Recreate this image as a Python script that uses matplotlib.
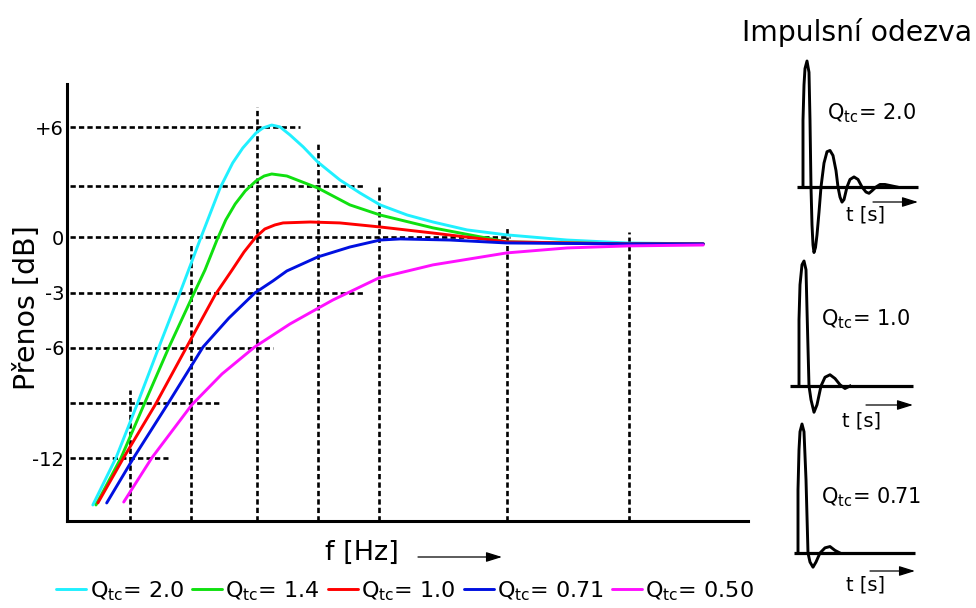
import matplotlib
matplotlib.use('Agg')
import matplotlib.pyplot as plt
from matplotlib.patches import FancyArrowPatch

W, H = 976, 608
plt.rcParams['font.family'] = ['DejaVu Sans']
plt.rcParams['mathtext.fontset'] = 'dejavusans'

# ---------------- data: frequency response (x = relative log-frequency units, y = dB)
q_values = ['2.0', '1.4', '1.0', '0.71', '0.50']
colors = ['#20F0FF', '#10E010', '#FF0000', '#0010E0', '#FF10FF']

x_q20 = [0.41, 0.78, 1.11, 1.46, 1.78, 2.11, 2.43, 2.63, 2.79, 3.00, 3.11, 3.25, 3.38, 3.54, 3.75,
         3.98, 4.33, 4.65, 4.97, 5.40, 5.81, 6.35, 6.98, 7.94, 8.89, 10.10]
db_q20 = [-14.54, -11.96, -9.10, -5.95, -3.13, -0.14, 2.69, 4.05, 4.86, 5.68, 5.95, 6.11, 6.01, 5.57, 4.92,
          4.10, 3.13, 2.42, 1.77, 1.22, 0.84, 0.41, 0.14, -0.14, -0.30, -0.35]

x_q14 = [0.46, 0.86, 1.22, 1.62, 1.98, 2.19, 2.38, 2.52, 2.67, 2.83, 3.00, 3.13, 3.25, 3.49, 3.98,
         4.49, 4.97, 5.81, 6.98, 8.89, 10.10]
db_q14 = [-14.54, -11.96, -9.10, -5.95, -3.29, -1.77, -0.14, 0.95, 1.82, 2.53, 3.07, 3.34, 3.45, 3.34, 2.69,
          1.77, 1.22, 0.52, -0.24, -0.35, -0.35]

x_q10 = [0.49, 0.90, 1.40, 1.90, 2.35, 2.62, 2.81, 3.00, 3.14, 3.30, 3.43, 3.86, 4.33, 4.97, 5.81, 6.98,
         8.89, 10.10]
db_q10 = [-14.43, -11.96, -9.10, -5.95, -3.13, -1.77, -0.79, 0.03, 0.46, 0.68, 0.79, 0.84, 0.79, 0.57, 0.24,
          -0.24, -0.35, -0.35]

x_q071 = [0.63, 1.06, 1.59, 2.16, 2.57, 2.98, 3.27, 3.49, 3.98, 4.49, 4.97, 5.29, 6.08, 6.98, 8.89, 10.10]
db_q071 = [-14.43, -11.96, -9.10, -5.95, -4.38, -3.02, -2.36, -1.82, -1.06, -0.52, -0.14, -0.08, -0.14, -0.30,
           -0.35, -0.35]

x_q050 = [0.90, 1.35, 1.98, 2.46, 2.98, 3.54, 4.02, 4.22, 4.95, 5.81, 6.98, 7.94, 8.90, 10.10]
db_q050 = [-14.38, -11.96, -9.10, -7.42, -5.95, -4.70, -3.78, -3.40, -2.20, -1.49, -0.84, -0.57, -0.46, -0.41]

series_x = [x_q20, x_q14, x_q10, x_q071, x_q050]
series_db = [db_q20, db_q14, db_q10, db_q071, db_q050]

# guide lines
ytick_vals = [6, 0, -3, -6, -12]
ytick_labels = ['+6', '0', '-3', '-6', '-12']
h_levels = [6, 2.8, 0, -3, -6, -9, -12]
h_ends = [3.70, 4.73, 7.03, 4.73, 3.27, 2.43, 1.60]
v_pos = [1.0, 1.97, 3.02, 3.98, 4.95, 6.98, 8.92]
v_tops = [-8.29, -0.41, 7.09, 5.19, 2.74, 0.57, 0.30]

# ---------------- data: impulse responses (t in time units, normalised amplitude)
t_q20 = [0, 0, 1, 2, 4, 6, 7, 8, 9, 10, 11, 12.5, 14, 16, 18, 21, 24, 27, 30, 33, 35, 37, 39, 41, 44,
         47, 51, 55, 59, 63, 66, 69, 73, 77, 82, 88, 94]
a_q20 = [0, 0.53, 0.81, 0.94, 1.0, 0.91, 0.53, 0, -0.30, -0.46, -0.52, -0.48, -0.38, -0.20, 0, 0.19,
         0.28, 0.29, 0.25, 0.13, 0, -0.08, -0.12, -0.10, 0, 0.06, 0.08, 0.06, 0, -0.04, -0.05, -0.03,
         0, 0.02, 0.02, 0.01, 0]
t_q10 = [0, 0, 1, 3, 5, 7, 8, 10, 12, 15, 18, 22, 26, 31, 36, 41, 46, 51]
a_q10 = [0, 0.53, 0.81, 0.97, 1.0, 0.93, 0.61, 0, -0.11, -0.21, -0.15, 0, 0.07, 0.09, 0.06, 0.01, -0.02, 0]
t_q071 = [0, 0, 1, 2, 4, 6, 8, 10, 12, 15, 18, 22, 27, 32, 37, 42]
a_q071 = [0, 0.49, 0.80, 0.94, 1.0, 0.94, 0.57, 0, -0.07, -0.11, -0.07, 0, 0.04, 0.05, 0.02, 0]

imp_t = [t_q20, t_q10, t_q071]
imp_a = [a_q20, a_q10, a_q071]
imp_labels = ['2.0', '1.0', '0.71']


def fx(px):
    return px / W


def fy(py):
    return 1 - py / H


fig = plt.figure(figsize=(W / 100, H / 100), dpi=100)

# ---------------- main frequency response axes
ax = fig.add_axes([fx(67), fy(521), fx(748) - fx(67), fy(84) - fy(521)])
ax.set_xlim(0, 10.81)
ax.set_ylim(-15.41, 8.34)
for s in ['top', 'right']:
    ax.spines[s].set_visible(False)
for s in ['left', 'bottom']:
    ax.spines[s].set_linewidth(2.2)
ax.set_xticks([])
ax.set_yticks(ytick_vals, ytick_labels, fontsize=14)
ax.tick_params(axis='y', length=0, pad=2)

dash = (0, (2.0, 1.2))
ax.hlines(h_levels, 0.05, h_ends, colors='black', lw=1.9, linestyles=[dash])
ax.vlines(v_pos, -15.41, v_tops, colors='black', lw=1.9, linestyles=[dash])

handles = []
for xs, ys, c, q in zip(series_x, series_db, colors, q_values):
    ln, = ax.plot(xs, ys, color=c, lw=2.1, solid_joinstyle='round', solid_capstyle='round', zorder=3)
    handles.append(ln)

fig.legend(handles, [r'Q$_{\rm tc}$= ' + q for q in q_values], loc='center',
           bbox_to_anchor=(fx(405), fy(591)), ncol=5, frameon=False, fontsize=16,
           handlelength=1.35, handletextpad=0.14, columnspacing=0.36,
           borderpad=0, borderaxespad=0)

fig.text(fx(27), fy(308), 'Přenos [dB]', rotation=90, ha='center', va='center', fontsize=20.5)
fig.text(fx(362), fy(553), 'f [Hz]', ha='center', va='center', fontsize=19.5)

arrow_kw = dict(arrowstyle='-|>,head_length=0.8,head_width=0.25', lw=0.9, color='black',
                mutation_scale=12, shrinkA=0, shrinkB=0)
fig.add_artist(FancyArrowPatch((fx(418), fy(557)), (fx(502), fy(557)),
                               transform=fig.transFigure, **arrow_kw))

fig.text(fx(742), fy(41), 'Impulsní odezva', ha='left', va='baseline', fontsize=20.3)

# ---------------- impulse response panels
panels = [
    dict(x0=803, yb=187, amp=126, top=50, bot=262, b0=797, b1=918, lx=827, ly=113,
         ay=202, ax0=873, ax1=918, tx=865, ty=215),
    dict(x0=799, yb=386, amp=125, top=255, bot=420, b0=790, b1=913, lx=821, ly=319,
         ay=405, ax0=866, ax1=913, tx=862, ty=421),
    dict(x0=798, yb=553, amp=129, top=418, bot=575, b0=794, b1=915, lx=821, ly=497,
         ay=571, ax0=870, ax1=915, tx=866, ty=585),
]
for p, ts, As, lab in zip(panels, imp_t, imp_a, imp_labels):
    left, right = 780, 930
    iax = fig.add_axes([fx(left), fy(p['bot']), fx(right) - fx(left), fy(p['top']) - fy(p['bot'])])
    iax.set_xlim(left - p['x0'], right - p['x0'])
    iax.set_ylim((p['yb'] - p['bot']) / p['amp'], (p['yb'] - p['top']) / p['amp'])
    iax.axis('off')
    iax.patch.set_alpha(0)
    iax.hlines(0, p['b0'] - p['x0'], p['b1'] - p['x0'], colors='black', lw=2.3)
    iax.plot(ts, As, color='black', lw=2.1, solid_joinstyle='round')
    fig.text(fx(p['lx']), fy(p['ly']), r'Q$_{\rm tc}$= ' + lab, ha='left', va='center', fontsize=15)
    fig.add_artist(FancyArrowPatch((fx(p['ax0']), fy(p['ay'])), (fx(p['ax1']), fy(p['ay'])),
                                   transform=fig.transFigure, **arrow_kw))
    fig.text(fx(p['tx']), fy(p['ty']), 't [s]', ha='center', va='center', fontsize=14)

fig.savefig('out.png', dpi=100)
